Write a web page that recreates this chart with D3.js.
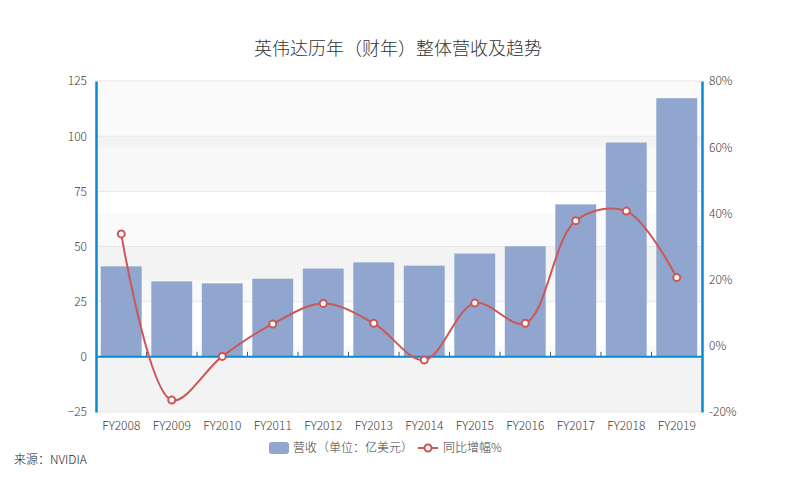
<!DOCTYPE html>
<html><head><meta charset="utf-8">
<script src="https://cdn.jsdelivr.net/npm/d3@7/dist/d3.min.js"></script>
<style>body{margin:0;background:#fff}svg{display:block;font-family:"Noto Sans CJK SC","Noto Sans",sans-serif}</style>
</head><body><svg id="c" width="796" height="496"></svg>
<script>
const categories = ["FY2008","FY2009","FY2010","FY2011","FY2012","FY2013","FY2014","FY2015","FY2016","FY2017","FY2018","FY2019"];
const revenue = [41.0, 34.2, 33.3, 35.4, 40.0, 42.8, 41.3, 46.8, 50.1, 69.1, 97.1, 117.2];
const growth = [33.8, -16.4, -3.2, 6.6, 12.8, 6.8, -4.3, 12.9, 6.8, 37.8, 40.7, 20.6];
const leftTicks = [-25, 0, 25, 50, 75, 100, 125];
const rightTicks = [-20, 0, 20, 40, 60, 80];
const title = "英伟达历年（财年）整体营收及趋势";
const seriesNames = ["营收（单位：亿美元）", "同比增幅%"];
const source = "来源：NVIDIA";

const svg = d3.select("#c");
const L = 96, R = 702, T = 81, B = 412;
const x = d3.scaleBand().domain(categories).range([L, R]).paddingInner(0.19).paddingOuter(0.095);
const xb = d3.scaleBand().domain(categories).range([L, R]);
const yL = d3.scaleLinear().domain([-25, 125]).range([B, T]);
const yR = d3.scaleLinear().domain([-20, 80]).range([B, T]);
const barColor = "#91a6cf", lineColor = "#cd5656", axisColor = "#0a8ad0", textColor = "#3a3a3a";
const FW = 300;

// split areas
for (let i = 0; i < leftTicks.length - 1; i++) {
  if (i % 2 === 0) svg.append("rect").attr("x", L).attr("width", R - L)
    .attr("y", yL(leftTicks[i + 1])).attr("height", yL(leftTicks[i]) - yL(leftTicks[i + 1]))
    .attr("fill", "rgba(0,0,0,0.026)");
}
for (let i = 0; i < rightTicks.length - 1; i++) {
  if (i % 2 === 0) svg.append("rect").attr("x", L).attr("width", R - L)
    .attr("y", yR(rightTicks[i + 1])).attr("height", yR(rightTicks[i]) - yR(rightTicks[i + 1]))
    .attr("fill", "rgba(0,0,0,0.02)");
}
// gridlines
svg.append("g").selectAll("line").data(leftTicks).join("line")
  .attr("x1", L).attr("x2", R).attr("y1", d => yL(d)).attr("y2", d => yL(d))
  .attr("stroke", "#e6e6e6").attr("stroke-width", 1);

// bars
svg.append("g").selectAll("rect").data(categories).join("rect")
  .attr("x", d => x(d)).attr("width", x.bandwidth())
  .attr("y", (d, i) => yL(revenue[i])).attr("height", (d, i) => yL(0) - yL(revenue[i]))
  .attr("fill", barColor);

// x axis (zero line) with inward ticks
svg.append("g").selectAll("line").data(categories.slice(1)).join("line")
  .attr("x1", d => xb(d)).attr("x2", d => xb(d)).attr("y1", yL(0) - 5).attr("y2", yL(0))
  .attr("stroke", "#555").attr("stroke-width", 1);
svg.append("line").attr("x1", L).attr("x2", R).attr("y1", yL(0)).attr("y2", yL(0))
  .attr("stroke", axisColor).attr("stroke-width", 2);
// x labels
svg.append("g").selectAll("text").data(categories).join("text")
  .attr("x", d => xb(d) + xb.bandwidth() / 2).attr("y", 430)
  .attr("text-anchor", "middle").attr("font-size", 12).attr("font-weight", FW).attr("fill", textColor).text(d => d);

// left axis
const gl = svg.append("g").attr("transform", `translate(${L},0)`)
  .call(d3.axisLeft(yL).tickValues(leftTicks).tickSize(0).tickPadding(9));
gl.select(".domain").attr("stroke", axisColor).attr("stroke-width", 2.5);
gl.selectAll("text").attr("font-size", 12).attr("font-weight", FW).attr("fill", textColor).attr("font-family", '"Noto Sans CJK SC",sans-serif');
// right axis
const gr = svg.append("g").attr("transform", `translate(${R},0)`)
  .call(d3.axisRight(yR).tickValues(rightTicks).tickSize(0).tickPadding(7).tickFormat(d => d + "%"));
gr.select(".domain").attr("stroke", axisColor).attr("stroke-width", 2.5);
gr.selectAll("text").attr("font-size", 12).attr("font-weight", FW).attr("fill", textColor).attr("font-family", '"Noto Sans CJK SC",sans-serif');

// line
const line = d3.line().x((d, i) => xb(categories[i]) + xb.bandwidth() / 2).y(d => yR(d))
  .curve(d3.curveCatmullRom.alpha(0.5));
svg.append("path").datum(growth).attr("d", line).attr("fill", "none")
  .attr("stroke", lineColor).attr("stroke-width", 2);
svg.append("g").selectAll("circle").data(growth).join("circle")
  .attr("cx", (d, i) => xb(categories[i]) + xb.bandwidth() / 2).attr("cy", d => yR(d))
  .attr("r", 3.5).attr("fill", "#fff").attr("stroke", lineColor).attr("stroke-width", 2);

// title
svg.append("text").attr("x", 398).attr("y", 55).attr("text-anchor", "middle")
  .attr("font-size", 18).attr("font-weight", FW).attr("fill", "#333").text(title);

// legend
svg.append("rect").attr("x", 269).attr("y", 442).attr("width", 20).attr("height", 12).attr("rx", 3)
  .attr("fill", barColor);
svg.append("text").attr("x", 293).attr("y", 452).attr("font-size", 12).attr("font-weight", FW).attr("fill", textColor).text(seriesNames[0]);
svg.append("line").attr("x1", 418).attr("x2", 438).attr("y1", 448).attr("y2", 448)
  .attr("stroke", lineColor).attr("stroke-width", 2);
svg.append("circle").attr("cx", 428).attr("cy", 448).attr("r", 3.5).attr("fill", "#fff")
  .attr("stroke", lineColor).attr("stroke-width", 2);
svg.append("text").attr("x", 443).attr("y", 452).attr("font-size", 12).attr("font-weight", FW).attr("fill", textColor).text(seriesNames[1]);

// source
svg.append("text").attr("x", 14).attr("y", 464).attr("font-size", 12).attr("font-weight", FW).attr("fill", "#222").text(source);
</script></body></html>
